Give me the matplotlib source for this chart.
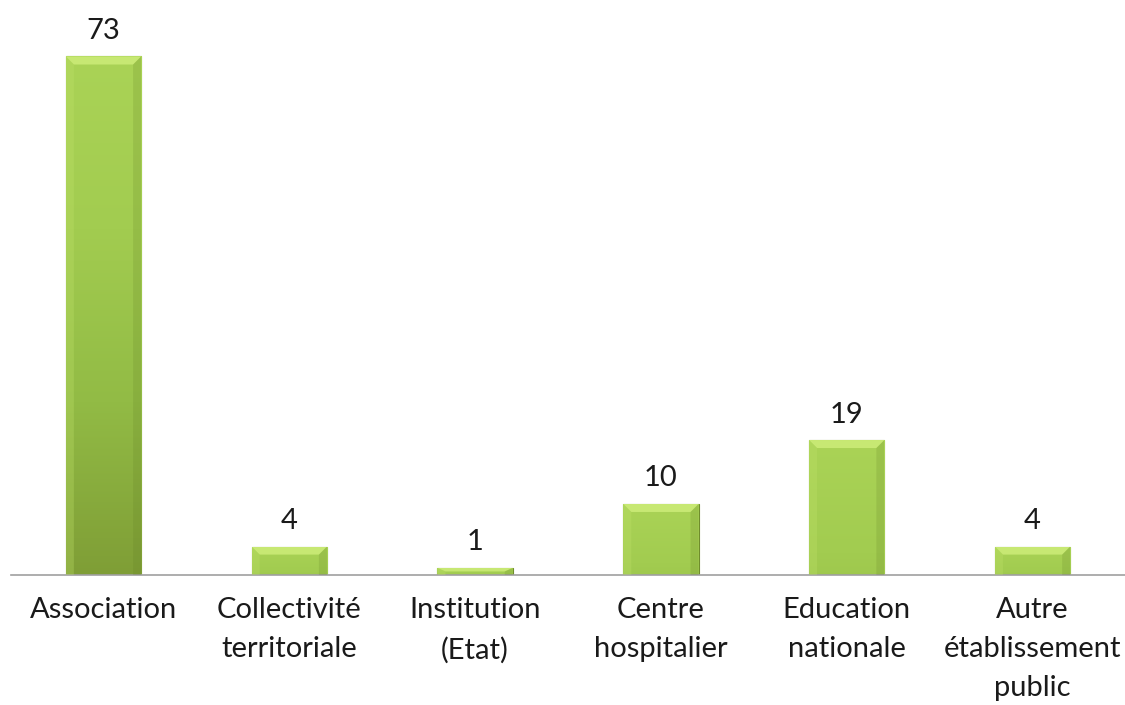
import matplotlib as mpl
mpl.use('Agg')
import matplotlib.pyplot as plt
from matplotlib.colors import LinearSegmentedColormap
from matplotlib.patches import Polygon
import numpy as np

categories = ['Association', 'Collectivité\nterritoriale', 'Institution\n(Etat)',
              'Centre\nhospitalier', 'Education\nnationale', 'Autre\nétablissement\npublic']
values = [73, 4, 1, 10, 19, 4]

plt.rcParams['font.family'] = ['Lato', 'DejaVu Sans']

fig = plt.figure(figsize=(11.25, 7.05), dpi=100)
ax = fig.add_axes([0.0094, 0.1844, 0.991, 0.806])

x = np.arange(len(values))
bars = ax.bar(x, values, width=0.405, color='#9cc44a', edgecolor='#6f8c2c', linewidth=0.8)

ax.set_xlim(-0.5, len(values) - 0.5)
ax.set_ylim(0, 80)

# pixel -> data sizes for the bevel
bbox = ax.get_window_extent()
px_x = (len(values)) / bbox.width
px_y = 80 / bbox.height

cmap = LinearSegmentedColormap.from_list('grn', ['#7f9e36', '#92bb45', '#a2cc50', '#aad356'])
grad = np.linspace(0, 1, 256).reshape(-1, 1)
for b in bars:
    x0, y0 = b.get_x(), b.get_y()
    w, h = b.get_width(), b.get_height()
    lo = 0.0 if h > 30 else 0.6
    g = lo + (1 - lo) * grad
    im = ax.imshow(g, cmap=cmap, vmin=0, vmax=1, aspect='auto', origin='lower',
                   extent=[x0, x0 + w, y0, y0 + h], zorder=2)
    im.set_clip_path(b)
    d = 8
    dx, dy = d * px_x, min(d * px_y, h / 2)
    top = y0 + h
    bevels = [
        ([(x0, top), (x0 + w, top), (x0 + w - dx, top - dy), (x0 + dx, top - dy)], '#d2f07e', 0.75),
        ([(x0, top), (x0 + dx, top - dy), (x0 + dx, y0), (x0, y0)], '#c0e26a', 0.3),
        ([(x0 + w, top), (x0 + w - dx, top - dy), (x0 + w - dx, y0), (x0 + w, y0)], '#5e7a22', 0.18),
    ]
    for pts, c, a in bevels:
        p = Polygon(pts, closed=True, facecolor=c, edgecolor='none', alpha=a, zorder=3)
        ax.add_patch(p)
        p.set_clip_path(b)

for rect, v in zip(bars, values):
    ax.annotate(str(v), (rect.get_x() + rect.get_width() / 2, rect.get_height()),
                xytext=(0, 9), textcoords='offset points', ha='center', va='bottom',
                fontsize=21, color='#1a1a1a')

ax.set_xticks(x)
ax.set_xticklabels(categories, fontsize=21, linespacing=1.62, color='#1a1a1a')
ax.tick_params(axis='x', length=0, pad=16)
ax.set_yticks([])
for s in ['top', 'right', 'left']:
    ax.spines[s].set_visible(False)
ax.spines['bottom'].set_color('#a0a0a0')
ax.spines['bottom'].set_linewidth(1.2)

plt.savefig('out.png', dpi=100)
